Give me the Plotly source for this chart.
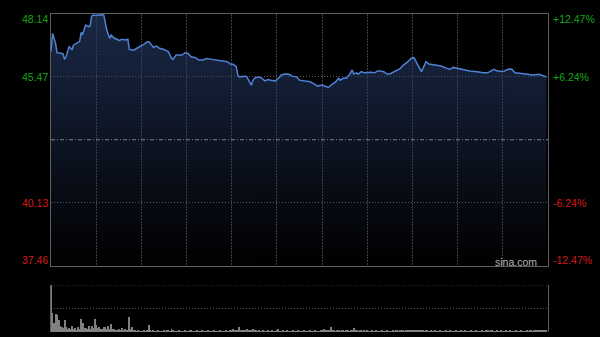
import plotly.graph_objects as go

# ---------------- data ----------------
prev_close = 42.80
price_ticks = [48.14, 45.47, 40.13, 37.46]
pct_labels = ["+12.47%", "+6.24%", "-6.24%", "-12.47%"]
session_minutes = 330            # 09:30-12:00 + 13:00-16:00
grid_minutes = [30, 60, 90, 120, 150, 180, 210, 240, 270, 300]

minutes = [0, 1, 3, 4, 6, 8, 9, 10, 12, 14, 15, 17, 19, 20, 21, 23, 25, 26, 27, 28,
           30, 33, 35, 36, 37, 39, 40, 42, 44, 45, 47, 49, 51, 52, 55, 57, 59, 61, 64, 65,
           68, 70, 72, 75, 78, 80, 81, 83, 87, 89, 91, 93, 96, 98, 101, 103, 107, 110, 113, 117,
           119, 121, 123, 124, 125, 129, 130, 132, 133, 134, 135, 138, 140, 142, 144, 146, 149, 151, 153, 155,
           158, 160, 163, 165, 169, 172, 175, 177, 180, 182, 184, 186, 189, 191, 192, 194, 196, 198, 200, 201,
           203, 204, 206, 208, 212, 215, 217, 221, 223, 225, 228, 232, 234, 237, 239, 241, 243, 245, 246, 248,
           249, 251, 254, 257, 259, 263, 265, 267, 270, 273, 278, 283, 287, 290, 293, 294, 296, 299, 301, 304,
           306, 308, 311, 317, 320, 324, 327, 329]

prices = [46.52, 47.29, 46.89, 46.48, 46.47, 46.43, 46.20, 46.31, 46.73, 46.62, 46.81, 46.88, 46.95, 47.33, 47.27, 47.65, 47.58, 47.61, 48.03, 48.08,
          48.06, 48.09, 48.08, 47.79, 47.44, 47.09, 47.23, 47.09, 47.05, 46.99, 47.05, 47.02, 47.05, 46.62, 46.59, 46.67, 46.73, 46.81, 46.95, 46.95,
          46.71, 46.76, 46.67, 46.62, 46.52, 46.24, 46.20, 46.38, 46.38, 46.48, 46.45, 46.31, 46.27, 46.17, 46.17, 46.24, 46.20, 46.17, 46.14, 46.10,
          46.00, 45.99, 45.89, 45.54, 45.46, 45.49, 45.46, 45.25, 45.11, 45.29, 45.40, 45.46, 45.40, 45.29, 45.35, 45.32, 45.29, 45.40, 45.54, 45.58,
          45.57, 45.49, 45.46, 45.32, 45.28, 45.25, 45.15, 45.07, 45.11, 45.07, 45.01, 45.11, 45.25, 45.40, 45.32, 45.40, 45.40, 45.54, 45.75, 45.58,
          45.63, 45.57, 45.68, 45.63, 45.65, 45.63, 45.72, 45.68, 45.58, 45.58, 45.68, 45.82, 45.96, 46.10, 46.24, 46.27, 46.03, 45.82, 45.68, 45.96,
          46.10, 46.00, 45.96, 45.92, 45.92, 45.82, 45.78, 45.86, 45.82, 45.75, 45.71, 45.68, 45.63, 45.63, 45.75, 45.78, 45.72, 45.69, 45.71, 45.79,
          45.78, 45.63, 45.61, 45.58, 45.54, 45.57, 45.51, 45.46]

volumes = [
    470, 187, 90, 180, 170, 120, 60, 53, 40, 120, 53, 30, 45, 35, 60, 30, 37, 25, 47, 30, 127, 87, 40, 37, 30, 60, 35, 60, 40, 127,
    70, 45, 53, 30, 35, 53, 47, 30, 60, 35, 80, 30, 27, 20, 25, 27, 18, 37, 20, 27, 22, 25, 147, 30, 47, 15, 13, 10, 12, 7,
    10, 8, 12, 10, 15, 70, 12, 10, 13, 8, 10, 12, 9, 10, 8, 13, 10, 12, 15, 10, 27, 12, 10, 8, 10, 12, 9, 10, 8, 12,
    10, 9, 12, 20, 10, 8, 10, 12, 9, 10, 12, 8, 10, 9, 12, 10, 8, 10, 12, 9, 10, 8, 12, 10, 9, 10, 12, 8, 10, 13,
    18, 27, 15, 20, 22, 47, 25, 18, 15, 20, 27, 15, 18, 20, 33, 15, 12, 10, 12, 9, 10, 12, 8, 10, 12, 9, 10, 12, 10, 9,
    12, 27, 10, 9, 12, 10, 8, 12, 10, 9, 10, 12, 8, 10, 12, 9, 10, 8, 12, 10, 9, 10, 12, 8, 10, 12, 9, 10, 8, 12,
    15, 27, 12, 15, 18, 20, 47, 15, 12, 10, 12, 14, 10, 12, 15, 10, 12, 14, 10, 15, 20, 37, 18, 12, 10, 14, 12, 10, 12, 10,
    12, 10, 9, 12, 10, 8, 12, 10, 9, 10, 12, 8, 10, 12, 9, 10, 8, 12, 10, 12, 14, 10, 12, 15, 12, 10, 14, 12, 15, 18,
    15, 14, 16, 18, 15, 20, 15, 12, 10, 12, 14, 10, 12, 10, 9, 12, 10, 8, 12, 10, 9, 10, 12, 8, 10, 12, 9, 10, 8, 12,
    10, 9, 12, 10, 8, 12, 10, 9, 10, 12, 8, 10, 12, 9, 10, 8, 12, 10, 9, 12, 14, 10, 20, 12, 10, 9, 12, 10, 8, 12,
    10, 9, 12, 10, 8, 12, 10, 9, 10, 12, 8, 10, 12, 9, 10, 8, 12, 10, 12, 14, 10, 12, 15, 14, 18, 20, 15, 18, 20, 22,
]
vol_minutes = list(range(len(volumes)))

# ---------------- style ----------------
UP = "#14a814"
DOWN = "#d81818"
FONT = "Liberation Sans"
BORDER = "#5e5e5e"

fig = go.Figure()

fig.add_trace(go.Scatter(
    x=minutes, y=prices, mode="lines",
    line=dict(color="#4f82d6", width=1.5),
    fill="tozeroy",
    fillgradient=dict(type="vertical",
                      colorscale=[[0, "rgba(38,60,104,0)"], [1, "rgba(38,60,104,0.68)"]],
                      start=price_ticks[-1], stop=price_ticks[0]),
    xaxis="x", yaxis="y", hoverinfo="skip", showlegend=False,
))

fig.add_trace(go.Bar(
    x=vol_minutes, y=volumes, width=0.65,
    marker=dict(color="#808080", line=dict(width=0)),
    xaxis="x2", yaxis="y2", hoverinfo="skip", showlegend=False,
))

H = 337.0
main_top, main_bot = 13.5, 266.0
vol_top, vol_bot = 285.0, 332.0

fig.update_layout(
    width=600, height=337,
    margin=dict(l=51, r=52, t=0, b=0),
    paper_bgcolor="#000000", plot_bgcolor="#000000",
    bargap=0,
    xaxis=dict(domain=[0, 1], range=[0, session_minutes], anchor="y",
               tickvals=grid_minutes, showticklabels=False, ticks="",
               showgrid=True, gridcolor="#3e3e3e", griddash="2px,1px", gridwidth=1,
               showline=True, mirror=True, linecolor=BORDER, linewidth=1,
               zeroline=False, fixedrange=True),
    yaxis=dict(domain=[1 - main_bot / H, 1 - main_top / H],
               range=[price_ticks[-1], price_ticks[0]],
               tickvals=[price_ticks[1], price_ticks[2]], showticklabels=False, ticks="",
               showgrid=True, gridcolor="#5c5c5c", griddash="1px,2px", gridwidth=1,
               showline=True, mirror=True, linecolor=BORDER, linewidth=1,
               zeroline=False, fixedrange=True),
    xaxis2=dict(domain=[0, 1], range=[0, session_minutes], anchor="y2",
                showticklabels=False, ticks="", showgrid=False,
                showline=False, zeroline=False, fixedrange=True),
    yaxis2=dict(domain=[1 - vol_bot / H, 1 - vol_top / H],
                range=[0, max(volumes)], anchor="x2",
                tickvals=[max(volumes) / 2], showticklabels=False, ticks="",
                showgrid=True, gridcolor="#555555", griddash="1px,2px", gridwidth=1,
                showline=True, mirror=True, linecolor=BORDER, linewidth=1,
                zeroline=False, fixedrange=True),
)

# previous close reference line (dash-dot)
fig.add_shape(type="line", xref="x domain", yref="y", x0=0, x1=1,
              y0=prev_close, y1=prev_close,
              line=dict(color="#7a8396", width=1, dash="4px,2px,1px,2px"))

# top dotted line of the volume panel (max volume level)
fig.add_shape(type="line", xref="x2 domain", yref="y2", x0=0, x1=1,
              y0=max(volumes), y1=max(volumes), layer="below",
              line=dict(color="#555555", width=1, dash="1px,2px"))

# price / percent labels
shifts = [-5, 0, 0, 6]
for v, pl, s in zip(price_ticks, pct_labels, shifts):
    col = UP if v > prev_close else DOWN
    fig.add_annotation(xref="paper", yref="y", x=0, y=v, text=f"{v:.2f}",
                       xanchor="right", yanchor="middle", xshift=-1, yshift=s,
                       showarrow=False, font=dict(family=FONT, size=10.5, color=col))
    fig.add_annotation(xref="paper", yref="y", x=1, y=v, text=pl,
                       xanchor="left", yanchor="middle", xshift=3, yshift=s,
                       showarrow=False, font=dict(family=FONT, size=10.5, color=col))

fig.add_annotation(xref="paper", yref="paper", x=1, y=1 - 261.7 / H, text="sina.com",
                   xanchor="right", yanchor="middle", xshift=-9,
                   showarrow=False, font=dict(family=FONT, size=10.5, color="#b4b4b4"))

fig.write_html("out.html", config={"displayModeBar": False})
